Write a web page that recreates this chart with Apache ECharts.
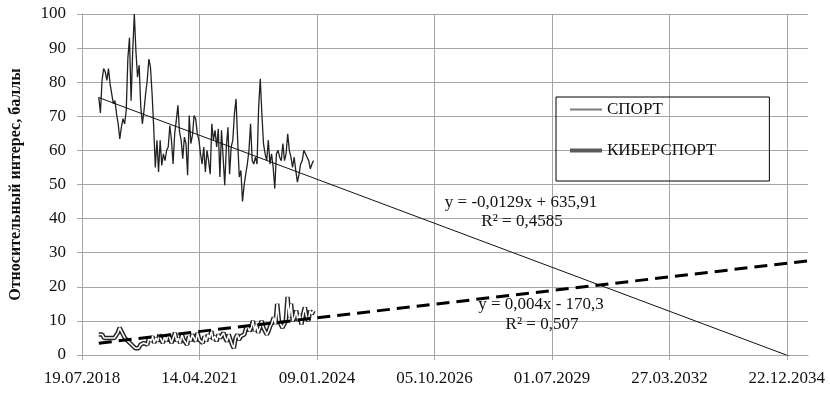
<!DOCTYPE html>
<html>
<head>
<meta charset="utf-8">
<script src="https://cdn.jsdelivr.net/npm/echarts@6/dist/echarts.min.js"></script>
<style>
  html, body { margin: 0; padding: 0; background: #fff; }
  #main { width: 830px; height: 400px; }
</style>
</head>
<body>
<div id="main"></div>
<script>
// Ось X: дни от 19.07.2018 (серийный номер Excel 43300)
const baseSerial = 43300;
const xTicks = ['19.07.2018', '14.04.2021', '09.01.2024', '05.10.2026', '01.07.2029', '27.03.2032', '22.12.2034'];
const yTicks = [0, 10, 20, 30, 40, 50, 60, 70, 80, 90, 100];
const dataStart = 143;   // ~09.12.2018
const dataEnd = 1971;    // ~11.12.2023
const xMax = 6180;

// СПОРТ, значения раз в ~2 недели
const sport = [75.6, 71, 80.5, 84, 83, 80.5, 84, 79.5, 76.6, 73.7, 74.6, 70.7, 67.8, 63.4, 66.8, 69.3,
  67.8, 71.7, 87, 93, 74.6, 89, 100, 89, 81.5, 85, 72.7, 67.8, 71.7, 76.6, 80.5, 86.8, 84.4, 76.6,
  66.8, 55, 63, 53.7, 63, 55.6, 59, 57, 60, 61, 67.3, 63, 56, 64.9, 68.8, 73.2, 65.4, 63, 57.6, 63.9,
  62, 52.7, 70.2, 62, 64.4, 70.2, 69.3, 64.9, 63, 59, 56, 61, 53.7, 60, 57, 53, 67.8, 63, 65.9, 61,
  66.3, 52.2, 65.9, 58, 49.8, 61, 66.8, 53, 61, 63, 70.7, 75.1, 63, 52.2, 54.1, 45, 49.8, 53, 56, 60,
  67.8, 57, 56, 58, 56, 72.7, 81, 70.7, 62, 59, 57, 63, 56, 59, 55, 48.8, 59, 60, 58, 57, 62, 57, 59,
  64.9, 60, 58, 55, 58, 54.1, 50.7, 53, 56, 57, 60, 59, 58, 57, 54.6, 56, 57];

// КИБЕРСПОРТ
const cyber = [6, 5.5, 6, 5, 5.5, 5, 4.5, 5, 4.5, 5, 5.5, 6.5, 8, 7, 6, 5, 4.5, 4, 3.5, 3, 2.5, 2,
  2.5, 2, 3, 2.5, 3.5, 4, 3, 5, 4, 5.5, 3.5, 5, 4, 6, 4.5, 3.5, 5.5, 4, 6, 5, 3.5, 5, 6.5, 4, 5,
  3.5, 6, 4.5, 5, 3, 5.5, 4, 6, 5, 4, 6.5, 4.5, 5, 3.5, 5.5, 4, 6, 5, 7, 4.5, 5.5, 4, 6, 5, 4.5,
  6.5, 5, 4, 6, 5.5, 3, 2, 5, 6, 4.5, 5.5, 6, 6, 7.8, 8.5, 7, 8, 10, 7, 9, 6.5, 8, 10, 8, 7, 6, 7,
  8.5, 9.5, 11, 9, 15, 10, 9, 8, 9, 10, 17, 11, 15, 10, 11, 13, 10, 12, 9, 12, 14, 11, 10, 13, 12, 13];

// Линии тренда (из уравнений на графике, x — серийный номер даты)
const sportTrend = { k: -0.0129, b: 635.91 };
const cyberTrend = { k: 0.004, b: -170.3 };

function spread(values) {
  const step = (dataEnd - dataStart) / (values.length - 1);
  return values.map((v, i) => [dataStart + i * step, v]);
}
function trendLine(t) {
  return [dataStart, xMax].map(x => [x, t.k * (x + baseSerial) + t.b]);
}
function fmtDate(offset) {
  const d = new Date(Date.UTC(1899, 11, 30) + (offset + baseSerial) * 864e5);
  const p = n => String(n).padStart(2, '0');
  return p(d.getUTCDate()) + '.' + p(d.getUTCMonth() + 1) + '.' + d.getUTCFullYear();
}

const font = '"Liberation Serif", "DejaVu Serif", serif';
const chart = echarts.init(document.getElementById('main'));

const option = {
  animation: false,
  grid: { left: 79, right: 22, top: 14, bottom: 45 },
  legend: {
    orient: 'vertical',
    left: 556,
    top: 97,
    padding: [4, 53, 22, 14],
    itemGap: 24,
    itemWidth: 32,
    itemHeight: 14,
    borderColor: '#000',
    borderWidth: 1,
    textStyle: { fontFamily: font, fontSize: 17, color: '#111' },
    data: [
      { name: 'СПОРТ', icon: 'path://M0,6H32V8H0Z', itemStyle: { color: '#7a7a7a' } },
      { name: 'КИБЕРСПОРТ', icon: 'path://M0,5H32V9H0Z', itemStyle: { color: '#5a5a5a' } }
    ]
  },
  xAxis: {
    type: 'value',
    min: 0,
    max: xMax,
    interval: 1000,
    axisLine: { show: true, lineStyle: { color: '#a6a6a6' } },
    axisTick: { show: true, length: 5, lineStyle: { color: '#a6a6a6' } },
    axisLabel: {
      showMaxLabel: false,
      margin: 15,
      fontFamily: font, fontSize: 17, color: '#111',
      formatter: v => fmtDate(v)
    },
    splitLine: { show: true, showMaxLine: false, lineStyle: { color: '#a6a6a6' } }
  },
  yAxis: {
    type: 'value',
    min: yTicks[0],
    max: yTicks[yTicks.length - 1],
    interval: 10,
    name: 'Относительный интерес, баллы',
    nameLocation: 'middle',
    nameGap: 58,
    nameTextStyle: { fontFamily: font, fontSize: 16, fontWeight: 'bold', color: '#111' },
    axisLine: { show: true, lineStyle: { color: '#a6a6a6' } },
    axisTick: { show: true, length: 5, lineStyle: { color: '#a6a6a6' } },
    axisLabel: { margin: 16, fontFamily: font, fontSize: 17, color: '#111' },
    splitLine: { show: true, lineStyle: { color: '#a6a6a6' } }
  },
  series: [
    {
      name: 'СПОРТ', type: 'line', data: spread(sport), symbol: 'none',
      lineStyle: { color: '#222', width: 1.3 }, z: 2
    },
    {
      name: 'sportTrend', type: 'line', data: trendLine(sportTrend), symbol: 'none',
      lineStyle: { color: '#111', width: 1 }, z: 3, clip: true
    },
    {
      name: 'КИБЕРСПОРТ', type: 'line', data: spread(cyber), symbol: 'none',
      lineStyle: { color: '#222', width: 4.5 }, z: 4
    },
    {
      name: 'cyberInner', type: 'line', data: spread(cyber), symbol: 'none',
      lineStyle: { color: '#fff', width: 1.6 }, z: 5
    },
    {
      name: 'cyberTrend', type: 'line', data: trendLine(cyberTrend), symbol: 'none',
      lineStyle: { color: '#000', width: 3, type: [13, 7] }, z: 6, clip: true
    }
  ],
  graphic: [
    { type: 'text', x: 521, y: 203, z: 10, style: { text: 'y = -0,0129x + 635,91', font: '17px "Liberation Serif"', fill: '#111', align: 'center', verticalAlign: 'middle' } },
    { type: 'text', x: 522, y: 222, z: 10, style: { text: 'R² = 0,4585', font: '17px "Liberation Serif"', fill: '#111', align: 'center', verticalAlign: 'middle' } },
    { type: 'text', x: 541, y: 305, z: 10, style: { text: 'y = 0,004x - 170,3', font: '17px "Liberation Serif"', fill: '#111', align: 'center', verticalAlign: 'middle' } },
    { type: 'text', x: 542, y: 325, z: 10, style: { text: 'R² = 0,507', font: '17px "Liberation Serif"', fill: '#111', align: 'center', verticalAlign: 'middle' } }
  ]
};

chart.setOption(option);
</script>
</body>
</html>
